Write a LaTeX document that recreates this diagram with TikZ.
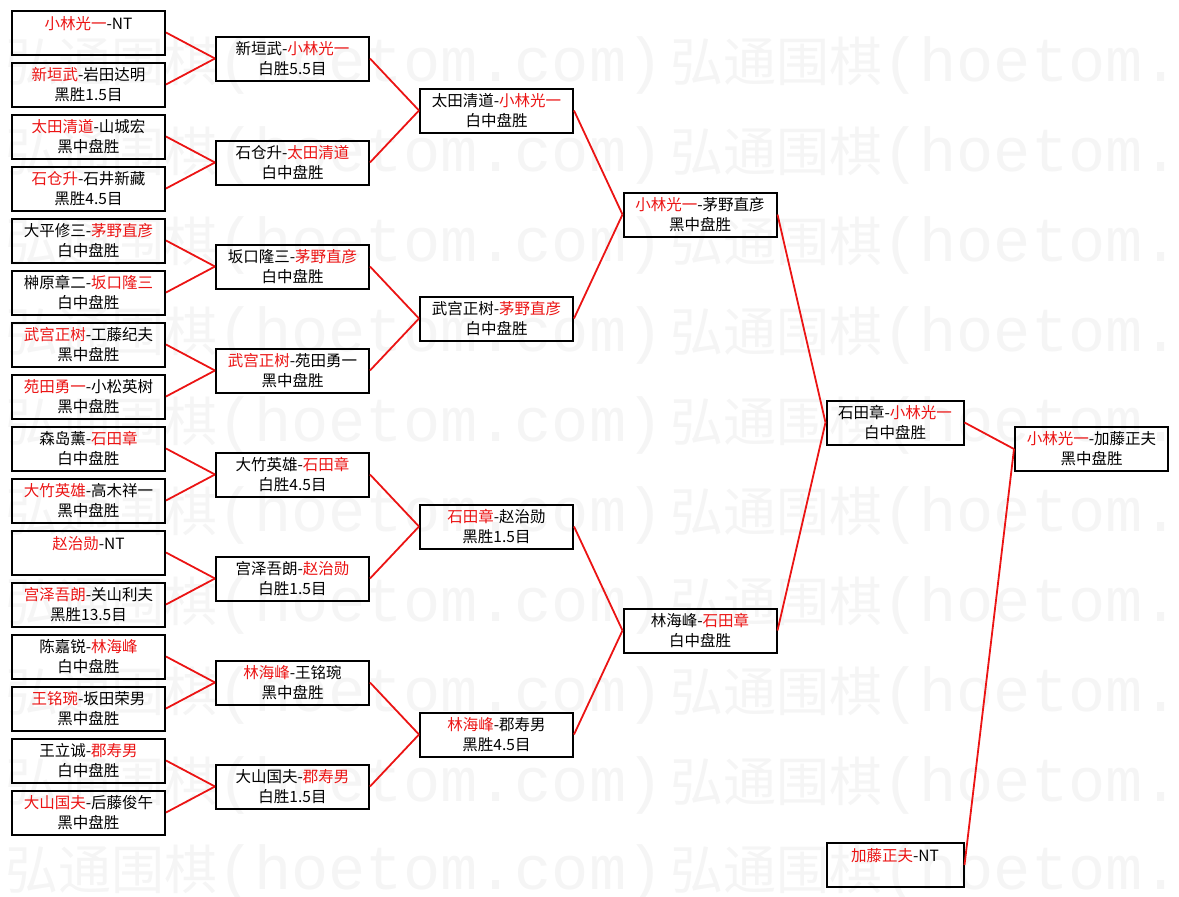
\documentclass[tikz,border=0pt]{standalone}
\usepackage{fontspec}
\setmainfont{Noto Sans CJK SC}
\newfontfamily\wmfont{Liberation Mono}
\definecolor{hred}{RGB}{235,20,20}
\definecolor{wmgray}{RGB}{245,245,245}
\newcommand{\win}[1]{\textcolor{hred}{#1}}
\newcommand{\wmtext}{{\fontsize{53}{53}\selectfont 弘通围棋}{\wmfont\fontsize{62}{62}\selectfont (hoetom.com)}}

\begin{document}
\begin{tikzpicture}[x=1pt,y=1pt]
\tikzstyle{every node}+=[inner sep=0pt]
\tikzstyle{game}=[draw=black,line width=2pt,minimum width=153pt,minimum height=44pt,align=center,font=\fontsize{15.5}{20}\selectfont]
\tikzstyle{link}=[hred,line width=1.8pt]
\tikzstyle{wm}=[anchor=west,text=wmgray]
\useasboundingbox (0,0) rectangle (1179,-897);
\begin{scope}
\clip (0,0) rectangle (1179,-897);
\node [wm] (w1a) at (5,-65) {\wmtext};
\node [wm] (w1b) at (670,-65) {\wmtext};
\node [wm] (w2a) at (5,-155) {\wmtext};
\node [wm] (w2b) at (670,-155) {\wmtext};
\node [wm] (w3a) at (5,-245) {\wmtext};
\node [wm] (w3b) at (670,-245) {\wmtext};
\node [wm] (w4a) at (5,-335) {\wmtext};
\node [wm] (w4b) at (670,-335) {\wmtext};
\node [wm] (w5a) at (5,-425) {\wmtext};
\node [wm] (w5b) at (670,-425) {\wmtext};
\node [wm] (w6a) at (5,-515) {\wmtext};
\node [wm] (w6b) at (670,-515) {\wmtext};
\node [wm] (w7a) at (5,-605) {\wmtext};
\node [wm] (w7b) at (670,-605) {\wmtext};
\node [wm] (w8a) at (5,-695) {\wmtext};
\node [wm] (w8b) at (670,-695) {\wmtext};
\node [wm] (w9a) at (5,-785) {\wmtext};
\node [wm] (w9b) at (670,-785) {\wmtext};
\node [wm] (w10a) at (5,-873) {\wmtext};
\node [wm] (w10b) at (670,-873) {\wmtext};
\end{scope}
\node [game] (a1) at (88.5,-32.5) {\win{小林光一}-NT\\~};
\node [game] (a2) at (88.5,-84.5) {\win{新垣武}-岩田达明\\黑胜1.5目};
\node [game] (a3) at (88.5,-136.5) {\win{太田清道}-山城宏\\黑中盘胜};
\node [game] (a4) at (88.5,-188.5) {\win{石仓升}-石井新藏\\黑胜4.5目};
\node [game] (a5) at (88.5,-240.5) {大平修三-\win{茅野直彦}\\白中盘胜};
\node [game] (a6) at (88.5,-292.5) {榊原章二-\win{坂口隆三}\\白中盘胜};
\node [game] (a7) at (88.5,-344.5) {\win{武宫正树}-工藤纪夫\\黑中盘胜};
\node [game] (a8) at (88.5,-396.5) {\win{苑田勇一}-小松英树\\黑中盘胜};
\node [game] (a9) at (88.5,-448.5) {森岛薰-\win{石田章}\\白中盘胜};
\node [game] (a10) at (88.5,-500.5) {\win{大竹英雄}-高木祥一\\黑中盘胜};
\node [game] (a11) at (88.5,-552.5) {\win{赵治勋}-NT\\~};
\node [game] (a12) at (88.5,-604.5) {\win{宫泽吾朗}-关山利夫\\黑胜13.5目};
\node [game] (a13) at (88.5,-656.5) {陈嘉锐-\win{林海峰}\\白中盘胜};
\node [game] (a14) at (88.5,-708.5) {\win{王铭琬}-坂田荣男\\黑中盘胜};
\node [game] (a15) at (88.5,-760.5) {王立诚-\win{郡寿男}\\白中盘胜};
\node [game] (a16) at (88.5,-812.5) {\win{大山国夫}-后藤俊午\\黑中盘胜};
\node [game] (b1) at (292.5,-58.5) {新垣武-\win{小林光一}\\白胜5.5目};
\node [game] (b2) at (292.5,-162.5) {石仓升-\win{太田清道}\\白中盘胜};
\node [game] (b3) at (292.5,-266.5) {坂口隆三-\win{茅野直彦}\\白中盘胜};
\node [game] (b4) at (292.5,-370.5) {\win{武宫正树}-苑田勇一\\黑中盘胜};
\node [game] (b5) at (292.5,-474.5) {大竹英雄-\win{石田章}\\白胜4.5目};
\node [game] (b6) at (292.5,-578.5) {宫泽吾朗-\win{赵治勋}\\白胜1.5目};
\node [game] (b7) at (292.5,-682.5) {\win{林海峰}-王铭琬\\黑中盘胜};
\node [game] (b8) at (292.5,-786.5) {大山国夫-\win{郡寿男}\\白胜1.5目};
\node [game] (c1) at (496.5,-110.5) {太田清道-\win{小林光一}\\白中盘胜};
\node [game] (c2) at (496.5,-318.5) {武宫正树-\win{茅野直彦}\\白中盘胜};
\node [game] (c3) at (496.5,-526.5) {\win{石田章}-赵治勋\\黑胜1.5目};
\node [game] (c4) at (496.5,-734.5) {\win{林海峰}-郡寿男\\黑胜4.5目};
\node [game] (d1) at (700,-214.5) {\win{小林光一}-茅野直彦\\黑中盘胜};
\node [game] (d2) at (700,-630.5) {林海峰-\win{石田章}\\白中盘胜};
\node [game,minimum width=137pt] (e1) at (895,-422.5) {石田章-\win{小林光一}\\白中盘胜};
\node [game,minimum width=137pt] (e2) at (895,-865) {\win{加藤正夫}-NT\\~};
\node [game] (f1) at (1091.5,-449) {\win{小林光一}-加藤正夫\\黑中盘胜};
\draw [link] (a1.east) -- (b1.west);
\draw [link] (a2.east) -- (b1.west);
\draw [link] (a3.east) -- (b2.west);
\draw [link] (a4.east) -- (b2.west);
\draw [link] (a5.east) -- (b3.west);
\draw [link] (a6.east) -- (b3.west);
\draw [link] (a7.east) -- (b4.west);
\draw [link] (a8.east) -- (b4.west);
\draw [link] (a9.east) -- (b5.west);
\draw [link] (a10.east) -- (b5.west);
\draw [link] (a11.east) -- (b6.west);
\draw [link] (a12.east) -- (b6.west);
\draw [link] (a13.east) -- (b7.west);
\draw [link] (a14.east) -- (b7.west);
\draw [link] (a15.east) -- (b8.west);
\draw [link] (a16.east) -- (b8.west);
\draw [link] (b1.east) -- (c1.west);
\draw [link] (b2.east) -- (c1.west);
\draw [link] (b3.east) -- (c2.west);
\draw [link] (b4.east) -- (c2.west);
\draw [link] (b5.east) -- (c3.west);
\draw [link] (b6.east) -- (c3.west);
\draw [link] (b7.east) -- (c4.west);
\draw [link] (b8.east) -- (c4.west);
\draw [link] (c1.east) -- (d1.west);
\draw [link] (c2.east) -- (d1.west);
\draw [link] (c3.east) -- (d2.west);
\draw [link] (c4.east) -- (d2.west);
\draw [link] (d1.east) -- (e1.west);
\draw [link] (d2.east) -- (e1.west);
\draw [link] (e1.east) -- (f1.west);
\draw [link] (e2.east) -- (f1.west);
\end{tikzpicture}
\end{document}
